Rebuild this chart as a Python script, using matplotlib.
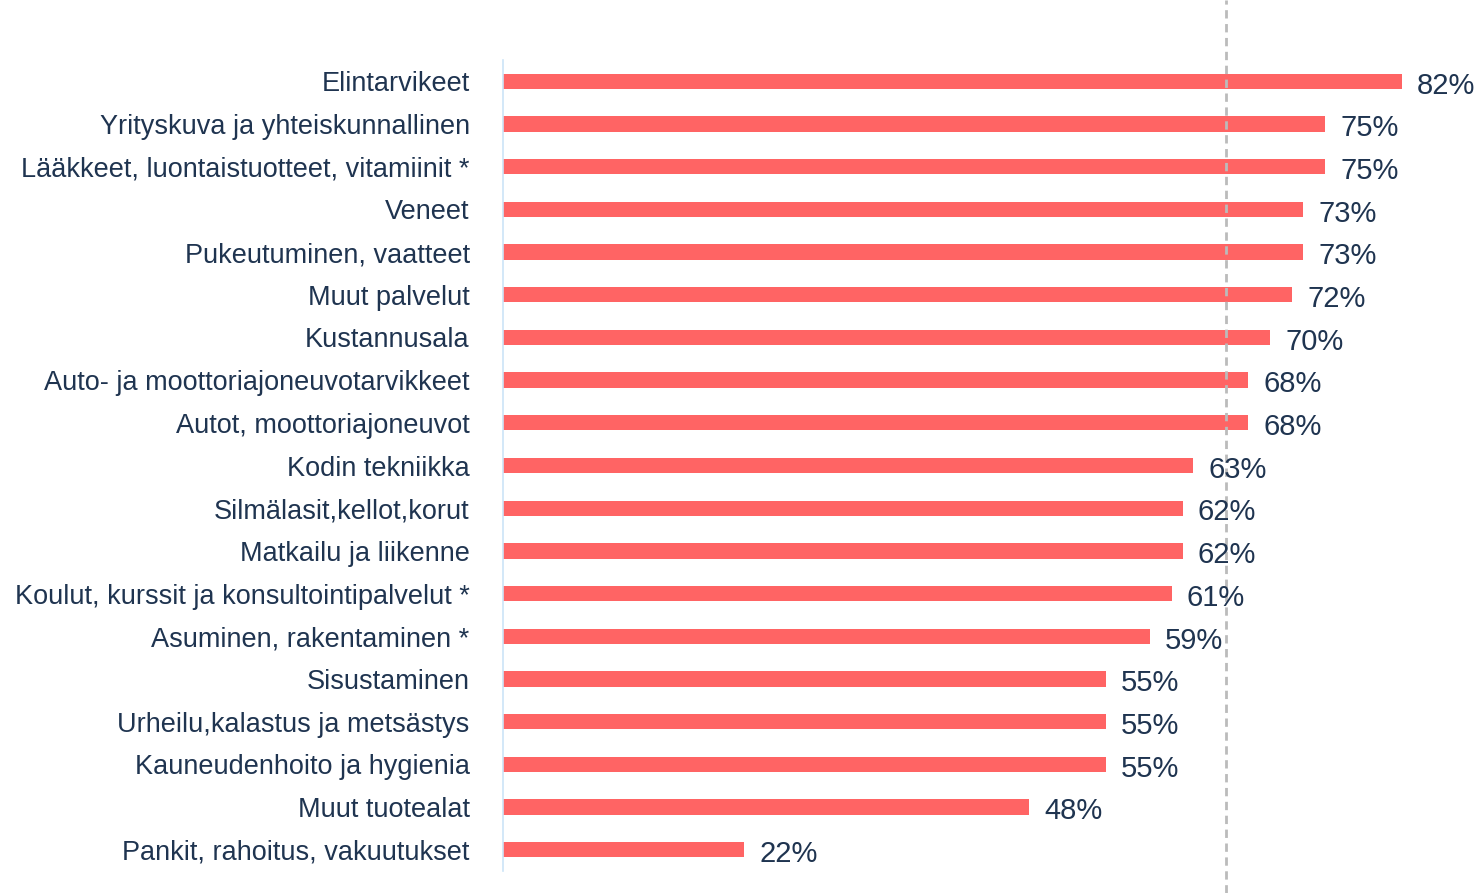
import matplotlib
matplotlib.use("Agg")
import matplotlib.pyplot as plt

categories = [
    "Elintarvikeet",
    "Yrityskuva ja yhteiskunnallinen",
    "Lääkkeet, luontaistuotteet, vitamiinit *",
    "Veneet",
    "Pukeutuminen, vaatteet",
    "Muut palvelut",
    "Kustannusala",
    "Auto- ja moottoriajoneuvotarvikkeet",
    "Autot, moottoriajoneuvot",
    "Kodin tekniikka",
    "Silmälasit,kellot,korut",
    "Matkailu ja liikenne",
    "Koulut, kurssit ja konsultointipalvelut *",
    "Asuminen, rakentaminen *",
    "Sisustaminen",
    "Urheilu,kalastus ja metsästys",
    "Kauneudenhoito ja hygienia",
    "Muut tuotealat",
    "Pankit, rahoitus, vakuutukset",
]
values = [82, 75, 75, 73, 73, 72, 70, 68, 68, 63, 62, 62, 61, 59, 55, 55, 55, 48, 22]
average = 66

BAR_COLOR = "#FF6464"
TEXT_COLOR = "#1F3450"

plt.rcParams["font.family"] = ["Liberation Sans", "DejaVu Sans"]

W, H = 1483, 893
TOP, BOTTOM = 60, 871
fig = plt.figure(figsize=(W / 100, H / 100), dpi=100)
# axes box in pixels: left 503, right edge of figure
ax = fig.add_axes([503 / W, (H - BOTTOM) / H, (W - 503) / W, (BOTTOM - TOP) / H])

y = list(range(len(categories)))
ax.barh(y, values, height=0.36, color=BAR_COLOR)
for yi, v in zip(y, values):
    ax.text(v + 1.4, yi + 0.1, f"{v}%", va="center", ha="left",
            fontsize=21, color=TEXT_COLOR)

ax.set_xlim(0, (W - 503) / 10.96)
ax.set_ylim(len(categories) - 0.5, -0.5)
ax.set_yticks(y)
ax.set_yticklabels(categories, fontsize=19.5, color=TEXT_COLOR)
ax.tick_params(axis="y", length=0, pad=24)
ax.set_xticks([])

for side in ["top", "right", "bottom"]:
    ax.spines[side].set_visible(False)
ax.spines["left"].set_color("#CCE4F7")
ax.spines["left"].set_linewidth(1.2)

# dashed reference line runs over the whole figure height
h = BOTTOM - TOP
ax.axvline(average, ymin=-(H - BOTTOM) / h, ymax=1 + TOP / h, clip_on=False,
           color="#BBBBBB", linestyle=(0, (3, 2)), linewidth=2)

fig.savefig("out.png", dpi=100)
